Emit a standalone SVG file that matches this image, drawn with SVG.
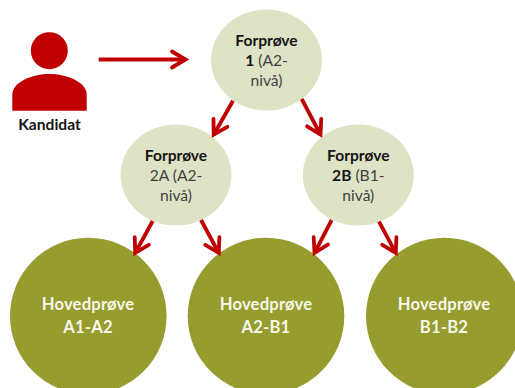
<svg xmlns="http://www.w3.org/2000/svg" width="515" height="388" viewBox="0 0 515 388">
<style>
text{font-family:Lato,"Liberation Sans",sans-serif;font-size:15.600px;text-anchor:middle}
.b{font-weight:700}
.pre{fill:#dfe3c6}
.main{fill:#969c2e}
.t{fill:#3f3f3f}
.d{fill:#151515}
.w{fill:#f6f7ea;font-weight:700;font-size:16.600px;letter-spacing:.2px}
.c line{stroke:#c00000;stroke-width:3.800;marker-end:url(#a)}
</style>
<defs>
<marker id="a" markerUnits="userSpaceOnUse" markerWidth="24" markerHeight="24" viewBox="-20 -12 24 24" refX="0" refY="0" orient="auto">
<path d="M-14-8L-.5 0L-14 8" fill="none" stroke="#c00000" stroke-width="3.800" stroke-linecap="round"/>
</marker>
</defs>
<g id="kandidat">
<circle cx="49.300" cy="50.700" r="18.500" fill="#c00000"/>
<path d="M12.300 110.700V94C13 82 32 74 49.500 74S86 82 86.700 94V110.700Z" fill="#c00000"/>
<text class="b d" x="49.500" y="130">Kandidat</text>
</g>
<g id="forprove1">
<ellipse class="pre" cx="266.500" cy="60" rx="55.500" ry="50.500"/>
<text class="b d" x="266.500" y="45.700">Forprøve</text>
<text class="t" x="266.500" y="65.700"><tspan class="b d">1</tspan> (A2-</text>
<text class="t" x="266.500" y="86">nivå)</text>
</g>
<g id="forprove2a">
<ellipse class="pre" cx="176" cy="175" rx="55.500" ry="50.500"/>
<text class="b d" x="176" y="160.700">Forprøve</text>
<text class="t" x="176" y="180.700">2A (A2-</text>
<text class="t" x="176" y="200.700">nivå)</text>
</g>
<g id="forprove2b">
<ellipse class="pre" cx="358.300" cy="175" rx="55.500" ry="50.500"/>
<text class="b d" x="358.300" y="160.700">Forprøve</text>
<text class="t" x="358.300" y="180.700"><tspan class="b d">2B</tspan> (B1-</text>
<text class="t" x="358.300" y="200.700">nivå)</text>
</g>
<g id="hoved-a1a2">
<circle class="main" cx="88.300" cy="316" r="78.300"/>
<text class="w" x="88" y="310">Hovedprøve</text>
<text class="w" x="88" y="332.700">A1-A2</text>
</g>
<g id="hoved-a2b1">
<circle class="main" cx="266" cy="316" r="78.300"/>
<text class="w" x="266" y="310">Hovedprøve</text>
<text class="w" x="266" y="332.700">A2-B1</text>
</g>
<g id="hoved-b1b2">
<circle class="main" cx="444.300" cy="316" r="78.300"/>
<text class="w" x="444" y="310">Hovedprøve</text>
<text class="w" x="444" y="332.700">B1-B2</text>
</g>
<g id="connectors" class="c">
<line x1="98.700" y1="59.500" x2="186" y2="59.500"/>
<line x1="233" y1="100.700" x2="213.500" y2="135"/>
<line x1="301.700" y1="99" x2="320.700" y2="135"/>
<line x1="152.700" y1="221" x2="135" y2="253.300"/>
<line x1="201" y1="220" x2="219" y2="253.300"/>
<line x1="331.700" y1="220" x2="314.300" y2="253.300"/>
<line x1="379" y1="221.700" x2="396" y2="253.300"/>
</g>
</svg>
